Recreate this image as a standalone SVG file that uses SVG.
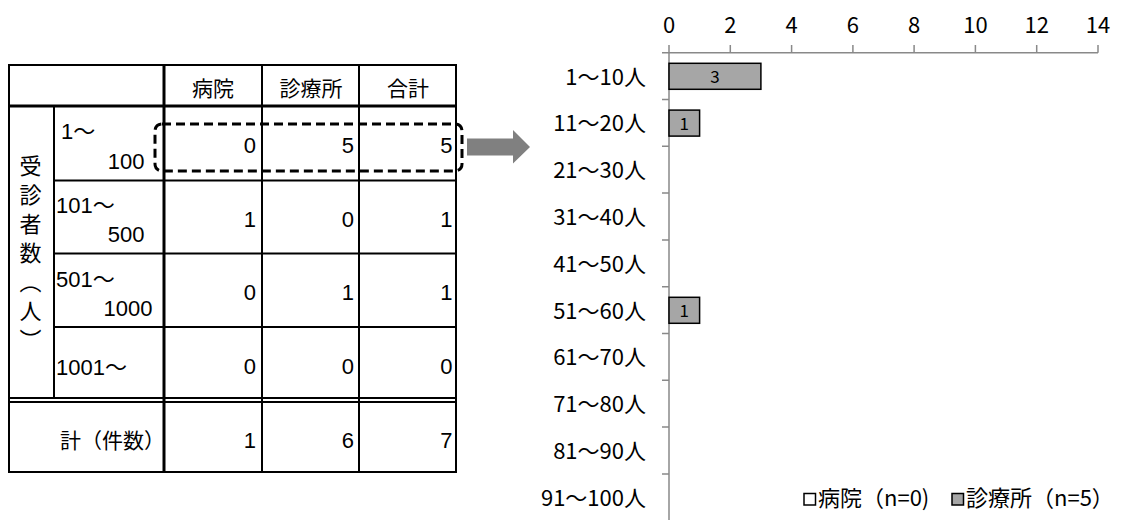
<svg xmlns="http://www.w3.org/2000/svg" width="1121" height="520" viewBox="0 0 1121 520">
<style>
.tl{stroke:#000;stroke-width:2;fill:none}
.tk{stroke:#000;stroke-width:3;fill:none}
.tt{font-family:"Liberation Sans","Noto Sans CJK JP",sans-serif;font-size:22px;fill:#000}
.tc{font-family:"Noto Sans CJK JP",sans-serif;font-size:21px;fill:#000}
.hd{text-anchor:middle}
.num{text-anchor:end}
.ct{font-family:"Noto Sans CJK JP",sans-serif;font-size:22px;fill:#000}
.ax{stroke:#898989;stroke-width:1.5;fill:none}
.bar{fill:#a6a6a6;stroke:#000;stroke-width:1.5}
.bl{font-family:"Noto Sans CJK JP",sans-serif;font-size:17px;fill:#000;text-anchor:middle}
</style>
<rect width="1121" height="520" fill="#fff"/>
<g id="table">
  <rect class="tl" x="9" y="65" width="447" height="407"/>
  <line class="tk" x1="9" y1="106" x2="456" y2="106"/>
  <line class="tk" x1="164" y1="65" x2="164" y2="472"/>
  <line class="tl" x1="262" y1="65" x2="262" y2="472"/>
  <line class="tl" x1="359" y1="65" x2="359" y2="472"/>
  <line class="tl" x1="54" y1="106" x2="54" y2="398"/>
  <line class="tl" x1="54" y1="180.5" x2="456" y2="180.5"/>
  <line class="tl" x1="54" y1="253.5" x2="456" y2="253.5"/>
  <line class="tl" x1="54" y1="327" x2="456" y2="327"/>
  <line class="tl" x1="9" y1="398" x2="456" y2="398"/>
  <line class="tl" x1="9" y1="402" x2="456" y2="402"/>
  <text class="tc hd" x="213" y="96">病院</text>
  <text class="tc hd" x="311" y="96">診療所</text>
  <text class="tc hd" x="408" y="96">合計</text>
  <text class="tc" x="30.5" y="155" style="writing-mode:vertical-rl;letter-spacing:7px;font-size:22px">受診者数（人）</text>
  <text class="tt" x="61" y="138.5">1～</text>
  <text class="tt num" x="144.5" y="168.5">100</text>
  <text class="tt" x="56" y="213">101～</text>
  <text class="tt num" x="144.5" y="242">500</text>
  <text class="tt" x="56" y="286.5">501～</text>
  <text class="tt num" x="152.5" y="316">1000</text>
  <text class="tt" x="56" y="375">1001～</text>
  <text class="tc" x="60" y="448">計（件数）</text>
  <text class="tt num" x="256" y="153">0</text>
  <text class="tt num" x="354" y="153">5</text>
  <text class="tt num" x="452.5" y="153">5</text>
  <text class="tt num" x="256" y="226.5">1</text>
  <text class="tt num" x="354" y="226.5">0</text>
  <text class="tt num" x="452.5" y="226.5">1</text>
  <text class="tt num" x="256" y="300">0</text>
  <text class="tt num" x="354" y="300">1</text>
  <text class="tt num" x="452.5" y="300">1</text>
  <text class="tt num" x="256" y="374">0</text>
  <text class="tt num" x="354" y="374">0</text>
  <text class="tt num" x="452.5" y="374">0</text>
  <text class="tt num" x="256" y="448">1</text>
  <text class="tt num" x="354" y="448">6</text>
  <text class="tt num" x="452.5" y="448">7</text>
</g>
<g id="highlight">
  <rect x="155" y="124" width="307" height="47" rx="7" fill="none" stroke="#000" stroke-width="3" stroke-dasharray="9 5"/>
</g>
<g id="connectors">
  <polygon points="467,138.5 513,138.5 513,130 530,147 513,163.5 513,155.5 467,155.5" fill="#808080"/>
</g>
<g id="chart">
  <g id="axes">
    <line class="ax" x1="662" y1="52.7" x2="1098" y2="52.7"/>
    <line class="ax" x1="669" y1="45" x2="669" y2="520"/>
    <path class="ax" d="M730.3,45V52.7M791.6,45V52.7M852.9,45V52.7M914.1,45V52.7M975.4,45V52.7M1036.7,45V52.7M1098,45V52.7"/>
    <path class="ax" d="M662,99.5H669M662,146.3H669M662,193.1H669M662,239.9H669M662,286.7H669M662,333.5H669M662,380.3H669M662,427.1H669M662,473.9H669"/>
  </g>
  <g id="xlabels" class="ct" text-anchor="middle">
    <text x="669" y="32.5">0</text>
    <text x="730.3" y="32.5">2</text>
    <text x="791.6" y="32.5">4</text>
    <text x="852.9" y="32.5">6</text>
    <text x="914.1" y="32.5">8</text>
    <text x="975.4" y="32.5">10</text>
    <text x="1036.7" y="32.5">12</text>
    <text x="1098" y="32.5">14</text>
  </g>
  <g id="ylabels" class="ct" text-anchor="end">
    <text x="646" y="84.5">1～10人</text>
    <text x="646" y="131.3">11～20人</text>
    <text x="646" y="178.1">21～30人</text>
    <text x="646" y="224.9">31～40人</text>
    <text x="646" y="271.7">41～50人</text>
    <text x="646" y="318.5">51～60人</text>
    <text x="646" y="365.3">61～70人</text>
    <text x="646" y="412.1">71～80人</text>
    <text x="646" y="458.9">81～90人</text>
    <text x="646" y="505.7">91～100人</text>
  </g>
  <g id="bars">
    <rect class="bar" x="669" y="63.3" width="91.9" height="26"/>
    <text class="bl" x="715" y="83">3</text>
    <rect class="bar" x="669" y="110.1" width="30.6" height="26"/>
    <text class="bl" x="684.3" y="130">1</text>
    <rect class="bar" x="669" y="297.3" width="30.6" height="26"/>
    <text class="bl" x="684.3" y="317">1</text>
  </g>
  <g id="legend">
    <rect x="804" y="493.5" width="11.5" height="11.5" fill="#fff" stroke="#000" stroke-width="1.5"/>
    <text class="ct" x="818" y="506">病院（n=0)</text>
    <rect x="952" y="493.5" width="11.5" height="11.5" fill="#a6a6a6" stroke="#000" stroke-width="1.5"/>
    <text class="ct" x="966" y="506">診療所（n=5）</text>
  </g>
</g>
</svg>
